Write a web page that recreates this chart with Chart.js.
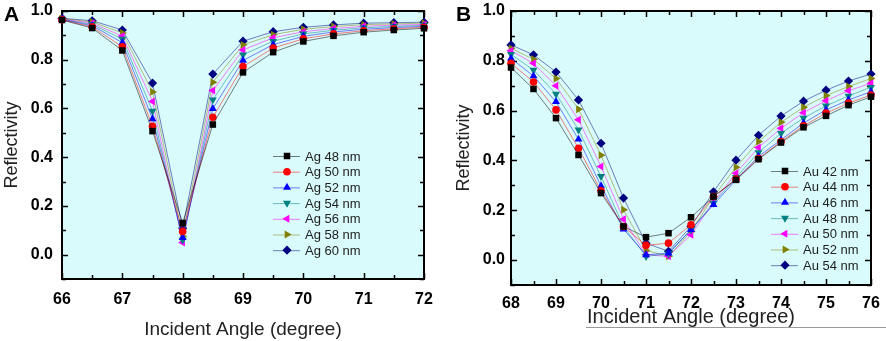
<!DOCTYPE html>
<html>
<head>
<meta charset="utf-8">
<script src="https://cdn.jsdelivr.net/npm/chart.js@4.4.1/dist/chart.umd.min.js"></script>
<style>
  body { margin: 0; background: #fff; }
  .wrap { display: flex; width: 886px; height: 341px; }
  canvas { display: block; }
</style>
</head>
<body>
<div class="wrap">
  <canvas id="chartA" width="443" height="341"></canvas>
  <canvas id="chartB" width="443" height="341"></canvas>
</div>
<script>
// panel A: Ag films
const agAngles = [66, 66.5, 67, 67.5, 68, 68.5, 69, 69.5, 70, 70.5, 71, 71.5, 72];
const agLabels = ['Ag 48 nm', 'Ag 50 nm', 'Ag 52 nm', 'Ag 54 nm', 'Ag 56 nm', 'Ag 58 nm', 'Ag 60 nm'];
const ag48 = [0.963, 0.930, 0.838, 0.507, 0.130, 0.534, 0.748, 0.831, 0.875, 0.898, 0.913, 0.922, 0.929];
const ag50 = [0.964, 0.935, 0.853, 0.527, 0.095, 0.564, 0.772, 0.848, 0.886, 0.906, 0.919, 0.927, 0.933];
const ag52 = [0.965, 0.940, 0.870, 0.557, 0.070, 0.599, 0.797, 0.862, 0.896, 0.914, 0.925, 0.932, 0.937];
const ag54 = [0.966, 0.945, 0.885, 0.589, 0.060, 0.636, 0.820, 0.876, 0.906, 0.921, 0.931, 0.937, 0.941];
const ag56 = [0.967, 0.950, 0.897, 0.629, 0.050, 0.674, 0.840, 0.890, 0.915, 0.928, 0.937, 0.942, 0.945];
const ag58 = [0.969, 0.955, 0.910, 0.668, 0.075, 0.708, 0.861, 0.903, 0.925, 0.936, 0.944, 0.947, 0.950];
const ag60 = [0.970, 0.960, 0.922, 0.704, 0.108, 0.741, 0.876, 0.915, 0.933, 0.943, 0.950, 0.952, 0.954];

// panel B: Au films
const auAngles = [68, 68.5, 69, 69.5, 70, 70.5, 71, 71.5, 72, 72.5, 73, 73.5, 74, 74.5, 75, 75.5, 76];
const auLabels = ['Au 42 nm', 'Au 44 nm', 'Au 46 nm', 'Au 48 nm', 'Au 50 nm', 'Au 52 nm', 'Au 54 nm'];
const au42 = [0.773, 0.687, 0.570, 0.422, 0.269, 0.135, 0.092, 0.108, 0.172, 0.255, 0.322, 0.405, 0.472, 0.533, 0.579, 0.622, 0.656];
const au44 = [0.790, 0.715, 0.603, 0.449, 0.278, 0.135, 0.059, 0.068, 0.142, 0.255, 0.325, 0.408, 0.476, 0.539, 0.590, 0.630, 0.663];
const au46 = [0.810, 0.739, 0.636, 0.485, 0.298, 0.124, 0.021, 0.028, 0.122, 0.222, 0.322, 0.416, 0.483, 0.550, 0.603, 0.643, 0.676];
const au48 = [0.826, 0.763, 0.667, 0.523, 0.336, 0.135, 0.015, 0.025, 0.122, 0.229, 0.332, 0.432, 0.509, 0.570, 0.619, 0.659, 0.694];
const au50 = [0.840, 0.790, 0.700, 0.563, 0.376, 0.164, 0.021, 0.015, 0.102, 0.233, 0.349, 0.452, 0.529, 0.592, 0.640, 0.680, 0.710];
const au52 = [0.850, 0.806, 0.729, 0.606, 0.421, 0.202, 0.039, 0.015, 0.115, 0.255, 0.373, 0.476, 0.553, 0.614, 0.660, 0.697, 0.729];
const au54 = [0.864, 0.824, 0.755, 0.643, 0.469, 0.249, 0.068, 0.035, 0.135, 0.274, 0.401, 0.501, 0.578, 0.638, 0.682, 0.719, 0.747];

const yTickValues = [0, 0.2, 0.4, 0.6, 0.8, 1.0];

// marker styles shared by both panels (Origin defaults)
const colors = ['#000000', '#ff0000', '#0000ff', '#008080', '#ff00ff', '#808000', '#000080'];
const shapes = ['rect', 'circle', 'triangle', 'triangle', 'triangle', 'triangle', 'rectRot'];
const rotations = [0, 0, 0, 180, 270, 90, 0];
const radii = [4.6, 3.8, 4.6, 4.6, 4.6, 4.6, 4.6];

const FONT = "'Liberation Sans', Arial, sans-serif";
const BG = '#d9fbfb';

function fade(hex, a) {
    const n = parseInt(hex.slice(1), 16);
    return 'rgba(' + (n >> 16) + ',' + ((n >> 8) & 255) + ',' + (n & 255) + ',' + a + ')';
}

function makeDatasets(angles, labels, series) {
    return series.map((vals, i) => ({
        label: labels[i],
        data: vals.map((v, j) => ({ x: angles[j], y: v })),
        borderColor: fade(colors[i], 0.5),
        borderWidth: 1,
        backgroundColor: colors[i],
        pointBackgroundColor: colors[i],
        pointBorderColor: colors[i],
        pointBorderWidth: 0,
        pointStyle: shapes[i],
        pointRotation: rotations[i],
        pointRadius: radii[i],
        pointHoverRadius: radii[i],
        tension: 0,
        clip: false
    }));
}

// fills the plot, draws the frame with inward ticks on all sides
const framePlugin = {
    id: 'frame',
    beforeDraw(chart) {
        const { ctx, chartArea: a } = chart;
        ctx.save();
        ctx.fillStyle = BG;
        ctx.fillRect(a.left, a.top, a.right - a.left, a.bottom - a.top);
        ctx.restore();
    },
    beforeDatasetsDraw(chart, args, opts) {
        const { ctx, chartArea: a, scales: { x, y } } = chart;
        ctx.save();
        ctx.strokeStyle = '#000';
        ctx.lineWidth = 1.5;
        ctx.beginPath();
        opts.xTicks.forEach(v => {
            const px = Math.round(x.getPixelForValue(v)) + 0.5;
            const len = Number.isInteger(v) ? 6 : 4;
            ctx.moveTo(px, a.bottom); ctx.lineTo(px, a.bottom - len);
            ctx.moveTo(px, a.top); ctx.lineTo(px, a.top + len);
        });
        for (let k = -1; k <= 10; k++) {
            const v = k / 10;
            const py = Math.round(y.getPixelForValue(v)) + 0.5;
            const len = k % 2 === 0 ? 6 : 4;
            ctx.moveTo(a.left, py); ctx.lineTo(a.left + len, py);
            ctx.moveTo(a.right, py); ctx.lineTo(a.right - len, py);
        }
        ctx.stroke();
        ctx.lineWidth = 2;
        ctx.strokeRect(a.left, a.top, a.right - a.left, a.bottom - a.top);
        ctx.restore();
    },
    afterDraw(chart, args, opts) {
        const ctx = chart.ctx;
        ctx.save();
        // panel letter
        ctx.fillStyle = '#000';
        ctx.font = 'bold 21px ' + FONT;
        ctx.textBaseline = 'middle';
        ctx.fillText(opts.letter, opts.letterX, 15);
        // legend
        const lg = opts.legend;
        chart.data.datasets.forEach((ds, i) => {
            const ly = lg.y + i * lg.gap;
            ctx.strokeStyle = ds.borderColor;
            ctx.lineWidth = 1;
            ctx.beginPath();
            ctx.moveTo(lg.x, ly + 0.5);
            ctx.lineTo(lg.x + 27, ly + 0.5);
            ctx.stroke();
            ctx.fillStyle = ds.pointBackgroundColor;
            Chart.helpers.drawPoint(ctx, {
                pointStyle: ds.pointStyle,
                rotation: ds.pointRotation,
                radius: ds.pointRadius,
                borderWidth: 0
            }, lg.x + 14, ly);
            ctx.fillStyle = '#222';
            ctx.font = '13px ' + FONT;
            ctx.textBaseline = 'middle';
            ctx.fillText(ds.label, lg.x + 32, ly + 1);
        });
        // stray rule under panel B title
        if (opts.rule) {
            ctx.strokeStyle = '#9a9a9a';
            ctx.lineWidth = 1;
            ctx.beginPath();
            ctx.moveTo(opts.rule[0], opts.rule[2] + 0.5);
            ctx.lineTo(opts.rule[1], opts.rule[2] + 0.5);
            ctx.stroke();
        }
        ctx.restore();
    }
};

function makePanel(id, angles, labels, series, p) {
    new Chart(document.getElementById(id).getContext('2d'), {
        type: 'line',
        data: { datasets: makeDatasets(angles, labels, series) },
        plugins: [framePlugin],
        options: {
            responsive: false,
            animation: false,
            events: [],
            layout: { padding: { top: 11, right: p.right, bottom: 0, left: 0 } },
            plugins: {
                legend: { display: false },
                tooltip: { enabled: false },
                frame: {
                    xTicks: angles,
                    letter: p.letter,
                    letterX: p.letterX,
                    legend: p.legend,
                    rule: p.rule
                }
            },
            scales: {
                x: {
                    type: 'linear',
                    min: angles[0],
                    max: angles[angles.length - 1],
                    grid: { display: false, drawTicks: false },
                    border: { display: false },
                    afterFit: s => {
                        s.height = p.xHeight;
                        s.paddingLeft = 0;
                        s.paddingRight = 0;
                    },
                    ticks: {
                        stepSize: 1,
                        padding: p.xPad,
                        color: '#000',
                        font: { family: FONT, size: 16, weight: 'bold' }
                    },
                    title: {
                        display: true,
                        text: 'Incident Angle (degree)',
                        color: '#222',
                        font: { family: FONT, size: p.xTitleSize },
                        padding: { top: 0, bottom: p.xTitlePad }
                    }
                },
                y: {
                    type: 'linear',
                    min: -0.1,
                    max: 1.0,
                    grid: { display: false, drawTicks: false },
                    border: { display: false },
                    afterFit: s => {
                        s.width = p.yWidth;
                        s.paddingTop = 0;
                        s.paddingBottom = 0;
                    },
                    afterBuildTicks: s => { s.ticks = yTickValues.map(v => ({ value: v })); },
                    ticks: {
                        padding: p.yPad,
                        color: '#000',
                        font: { family: FONT, size: 16, weight: 'bold' },
                        callback: v => Number(v).toFixed(1)
                    },
                    title: {
                        display: true,
                        text: 'Reflectivity',
                        color: '#222',
                        font: { family: FONT, size: 18 },
                        padding: { top: p.yTitlePad, bottom: 0 }
                    }
                }
            }
        }
    });
}

makePanel('chartA', agAngles, agLabels, [ag48, ag50, ag52, ag54, ag56, ag58, ag60], {
    right: 19, xHeight: 62, yWidth: 62, xPad: 11, yPad: 9, xTitlePad: 0, yTitlePad: 1,
    xTitleSize: 19, letter: 'A', letterX: 4,
    legend: { x: 273, y: 156, gap: 15.7 }
});

makePanel('chartB', auAngles, auLabels, [au42, au44, au46, au48, au50, au52, au54], {
    right: 15, xHeight: 56, yWidth: 68, xPad: 9, yPad: 6, xTitlePad: 12, yTitlePad: 10,
    xTitleSize: 20, letter: 'B', letterX: 13,
    legend: { x: 328, y: 171, gap: 15.7 },
    rule: [143, 443, 327]
});
</script>
</body>
</html>
